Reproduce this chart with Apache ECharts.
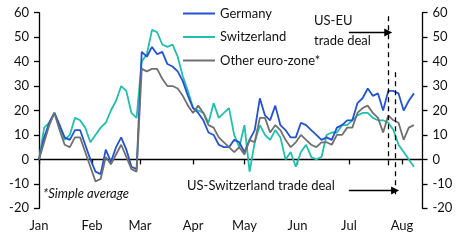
<!DOCTYPE html>
<html>
<head>
<meta charset="utf-8">
<script src="https://cdn.jsdelivr.net/npm/echarts@6/dist/echarts.min.js"></script>
<style>
  html, body { margin: 0; padding: 0; background: #fff; }
  #chart { width: 465px; height: 245px; }
</style>
</head>
<body>
<div id="chart"></div>
<script>
// sample dates (every third day)
const dates = [
  '2025-01-01','2025-01-04','2025-01-07','2025-01-10','2025-01-13','2025-01-16','2025-01-19','2025-01-22','2025-01-25','2025-01-28',
  '2025-01-31','2025-02-03','2025-02-06','2025-02-09','2025-02-12','2025-02-15','2025-02-18','2025-02-21','2025-02-24','2025-02-27',
  '2025-03-02','2025-03-05','2025-03-08','2025-03-11','2025-03-14','2025-03-17','2025-03-20','2025-03-23','2025-03-26','2025-03-29',
  '2025-04-01','2025-04-04','2025-04-07','2025-04-10','2025-04-13','2025-04-16','2025-04-19','2025-04-22','2025-04-25','2025-04-28',
  '2025-05-01','2025-05-04','2025-05-07','2025-05-10','2025-05-13','2025-05-16','2025-05-19','2025-05-22','2025-05-25','2025-05-28',
  '2025-05-31','2025-06-03','2025-06-06','2025-06-09','2025-06-12','2025-06-15','2025-06-18','2025-06-21','2025-06-24','2025-06-27',
  '2025-06-30','2025-07-03','2025-07-06','2025-07-09','2025-07-12','2025-07-15','2025-07-18','2025-07-21','2025-07-24','2025-07-27',
  '2025-07-30','2025-08-02','2025-08-05','2025-08-08'
];

const germany = [
  0, 9, 15, 19, 14, 9, 8, 12, 12, 6,
  0, -5, -6, 4, -1, 5, 9, 4, -3, -4,
  44, 42, 46, 43, 44, 39, 38, 36, 32, 26,
  21, 19, 16, 11, 10, 6, 5, 5, 8, 7,
  3, 8, 12, 25, 18, 16, 22, 14, 12, 9,
  9, 15, 14, 12, 10, 8, 9, 8, 13, 14,
  16, 16, 23, 25, 29, 26, 27, 20, 28, 28,
  27, 20, 24, 27
];

const switzerland = [
  0, 13, 15, 19, 14, 8, 10, 17, 16, 13,
  7, 10, 13, 15, 20, 24, 30, 28, 19, 17,
  40, 43, 53, 52, 47, 46, 47, 42, 34, 28,
  21, 20, 19, 15, 23, 17, 19, 21, 10, 5,
  14, -5, 7, 14, 10, 8, 12, 9, 0, 3,
  -3, 3, 6, 1, 0, 1, 10, 11, 11, 14,
  14, 16, 18, 19, 19, 17, 16, 16, 15, 12,
  6, 3, 0, -3
];

const otherEuro = [
  0, 7, 14, 19, 12, 6, 5, 9, 9, 3,
  -3, -9, -8, 1, -2, 2, 6, 1, -4, -5,
  37, 36, 37, 37, 33, 30, 30, 29, 26, 22,
  19, 22, 19, 14, 13, 9, 7, 5, 3, 5,
  2, 8, 7, 17, 17, 11, 14, 12, 8, 5,
  7, 10, 8, 6, 5, 7, 7, 6, 10, 10,
  13, 13, 19, 21, 22, 19, 17, 11, 18, 16,
  15, 8, 13, 14
];

const monthLabels = ['Jan', 'Feb', 'Mar', 'Apr', 'May', 'Jun', 'Jul', 'Aug', 'Sep', 'Oct', 'Nov', 'Dec'];

// annotations
const usEuDeal = '2025-07-24';
const usChDeal = '2025-07-28';
const arrowFrom = '2025-07-01';

const FONT = 'Lato';
const chart = echarts.init(document.getElementById('chart'));

function pairs(vals) {
  return dates.map((d, i) => [d, vals[i]]);
}

const yAxisBase = {
  type: 'value',
  min: -20,
  max: 60,
  interval: 10,
  splitLine: { show: false },
  axisLine: { show: true, lineStyle: { color: '#000', width: 1.3 } },
  axisTick: { show: true, length: 5, lineStyle: { color: '#000', width: 1.3 } },
  axisLabel: { color: '#111', fontSize: 13, fontFamily: FONT, margin: 10 }
};

const dashed = { type: [5, 4], color: '#000', width: 1.3 };

chart.setOption({
  animation: false,
  textStyle: { fontFamily: FONT },
  grid: { left: 39, right: 42.5, top: 12.7, bottom: 36.7, containLabel: false },
  legend: {
    orient: 'vertical',
    left: 183,
    top: 7,
    padding: 0,
    icon: 'rect',
    itemWidth: 32,
    itemHeight: 2,
    itemGap: 10.5,
    textStyle: { fontSize: 13, color: '#111', fontFamily: FONT },
    data: ['Germany', 'Switzerland', 'Other euro-zone*']
  },
  xAxis: {
    type: 'time',
    min: '2025-01-01',
    max: '2025-08-13',
    minInterval: 28 * 86400000,
    maxInterval: 31 * 86400000,
    splitLine: { show: false },
    axisLine: { lineStyle: { color: '#000', width: 1.3 } },
    axisTick: { show: true, length: 5, lineStyle: { color: '#000', width: 1.3 } },
    axisLabel: {
      color: '#111',
      fontSize: 13,
      fontFamily: FONT,
      margin: 11,
      showMaxLabel: false,
      formatter: v => monthLabels[new Date(v).getMonth()]
    }
  },
  yAxis: [
    Object.assign({ position: 'left' }, yAxisBase),
    Object.assign({ position: 'right' }, yAxisBase)
  ],
  series: [
    {
      name: 'Switzerland', type: 'line', data: pairs(switzerland), symbol: 'none',
      lineStyle: { color: '#1fc0ad', width: 1.8 }, itemStyle: { color: '#1fc0ad' }
    },
    {
      name: 'Germany', type: 'line', data: pairs(germany), symbol: 'none',
      lineStyle: { color: '#2352d4', width: 1.8 }, itemStyle: { color: '#2352d4' }
    },
    {
      name: 'Other euro-zone*', type: 'line', data: pairs(otherEuro), symbol: 'none',
      lineStyle: { color: '#707070', width: 1.8 }, itemStyle: { color: '#707070' },
      markLine: {
        silent: true,
        symbol: 'none',
        label: { show: false },
        data: [
          [{ yAxis: 0, lineStyle: { color: '#000', width: 1.5, type: 'solid' } }, { yAxis: 0 }],
          [{ coord: [usEuDeal, 58.5], lineStyle: dashed }, { coord: [usEuDeal, -3.7] }],
          [{ coord: [usChDeal, 35.6], lineStyle: dashed }, { coord: [usChDeal, -15.2] }],
          [{ coord: [arrowFrom, 51.9], symbol: 'none', lineStyle: { color: '#000', width: 1.3, type: 'solid' } },
           { coord: [usEuDeal, 51.9], symbol: 'triangle', symbolSize: 8, symbolRotate: -90 }],
          [{ coord: [arrowFrom, -12.7], symbol: 'none', lineStyle: { color: '#000', width: 1.3, type: 'solid' } },
           { coord: [usChDeal, -12.7], symbol: 'triangle', symbolSize: 8, symbolRotate: -90 }]
        ]
      }
    }
  ],
  graphic: [
    { type: 'text', left: 314, top: 14, style: { text: 'US-EU', fontSize: 13, fontFamily: FONT, fill: '#111' } },
    { type: 'text', left: 314, top: 34, style: { text: 'trade deal', fontSize: 13, fontFamily: FONT, fill: '#111' } },
    { type: 'text', left: 187, top: 179, style: { text: 'US-Switzerland trade deal', fontSize: 13, fontFamily: FONT, fill: '#111' } },
    { type: 'text', left: 43, top: 187, style: { text: '*Simple average', fontSize: 13, fontStyle: 'italic', fontFamily: FONT, fill: '#111' } }
  ]
});
</script>
</body>
</html>
